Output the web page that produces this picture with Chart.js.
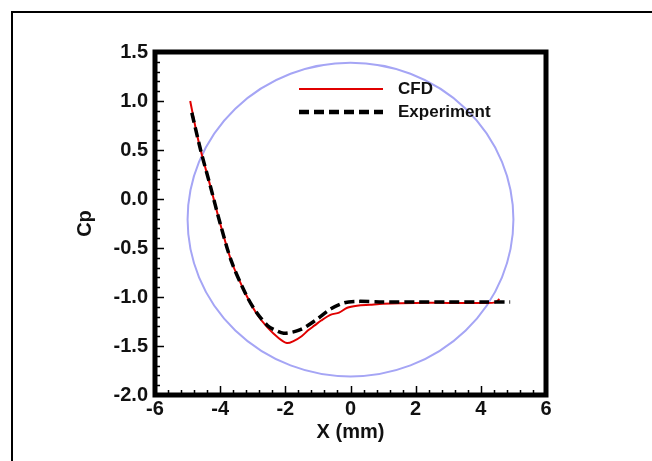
<!DOCTYPE html>
<html>
<head>
<meta charset="utf-8">
<script src="https://cdn.jsdelivr.net/npm/chart.js@4.4.1/dist/chart.umd.min.js"></script>
<style>
  html, body { margin: 0; padding: 0; background: #fff; overflow: hidden; }
  #wrap { position: relative; width: 652px; height: 461px; overflow: hidden; }
  #frame { position: absolute; left: 11px; top: 11px; width: 900px; height: 700px;
           border-left: 2px solid #000; border-top: 2px solid #000; }
  canvas { position: absolute; left: 0; top: 0; }
</style>
</head>
<body>
<div id="wrap">
  <div id="frame"></div>
  <canvas id="cpChart" width="652" height="461"></canvas>
</div>
<script>
// CFD curve (red)
const cfdX = [-4.92, -4.75, -4.6, -4.3, -4.0, -3.65, -3.2, -2.9, -2.55, -2.2, -1.95, -1.75, -1.5, -1.3, -1.1, -0.9, -0.6, -0.35, -0.1, 0.2, 0.6, 1.0, 2.0, 3.0, 4.0, 4.45, 4.57];
const cfdY = [1.0, 0.72, 0.5, 0.13, -0.25, -0.64, -0.98, -1.16, -1.31, -1.42, -1.47, -1.45, -1.40, -1.34, -1.29, -1.24, -1.18, -1.16, -1.11, -1.09, -1.08, -1.07, -1.06, -1.06, -1.06, -1.055, -1.02];

// Experiment curve (black dashed)
const expX = [-4.87, -4.6, -4.3, -4.0, -3.65, -3.2, -2.9, -2.55, -2.3, -2.05, -1.8, -1.6, -1.4, -1.0, -0.6, -0.2, 0.2, 1.0, 2.0, 3.0, 4.0, 4.9];
const expY = [0.88, 0.5, 0.13, -0.25, -0.64, -0.98, -1.15, -1.29, -1.34, -1.37, -1.36, -1.34, -1.31, -1.22, -1.12, -1.06, -1.045, -1.05, -1.05, -1.05, -1.05, -1.05];

// highlight ellipse (data units)
const circleCenter = [0, -0.21];
const circleRadius = [5.0, 1.6];

// axes
const xRange = [-6, 6];
const yRange = [-2.0, 1.5];
const xMajor = 2, xMinor = 0.4;
const yMajor = 0.5, yMinor = 0.1;

const toPoints = (xs, ys) => xs.map((x, i) => ({ x: x, y: ys[i] }));

const decorPlugin = {
    id: 'decor',
    beforeDatasetsDraw(chart) {
        const { ctx, scales: { x, y } } = chart;
        const cx = x.getPixelForValue(circleCenter[0]);
        const cy = y.getPixelForValue(circleCenter[1]);
        const rx = Math.abs(x.getPixelForValue(circleCenter[0] + circleRadius[0]) - cx);
        const ry = Math.abs(y.getPixelForValue(circleCenter[1] + circleRadius[1]) - cy);
        ctx.save();
        ctx.strokeStyle = 'rgb(165,165,245)';
        ctx.lineWidth = 2;
        ctx.beginPath();
        ctx.ellipse(cx, cy, rx, ry, 0, 0, Math.PI * 2);
        ctx.stroke();
        ctx.restore();
    },
    afterDraw(chart) {
        const { ctx, chartArea: a, scales: { x, y } } = chart;
        ctx.save();
        ctx.strokeStyle = '#000';

        // inward ticks on left and bottom
        ctx.lineWidth = 1.5;
        ctx.beginPath();
        for (let v = yRange[0]; v <= yRange[1] + 1e-9; v += yMinor) {
            const isMajor = Math.abs(v / yMajor - Math.round(v / yMajor)) < 1e-6;
            const py = Math.round(y.getPixelForValue(v)) + 0.5;
            ctx.moveTo(a.left, py);
            ctx.lineTo(a.left + (isMajor ? 9 : 5), py);
        }
        for (let v = xRange[0]; v <= xRange[1] + 1e-9; v += xMinor) {
            const isMajor = Math.abs(v / xMajor - Math.round(v / xMajor)) < 1e-6;
            const px = Math.round(x.getPixelForValue(v)) + 0.5;
            ctx.moveTo(px, a.bottom);
            ctx.lineTo(px, a.bottom - (isMajor ? 9 : 5));
        }
        ctx.stroke();

        // thick plot frame
        ctx.lineWidth = 5;
        ctx.strokeRect(a.left, a.top, a.right - a.left, a.bottom - a.top);

        // legend
        const ds = chart.data.datasets;
        const lx0 = 299, lx1 = 383, tx = 398;
        const rows = [89, 112];
        ctx.font = 'bold 17px "Liberation Sans", Arial, sans-serif';
        ctx.textBaseline = 'middle';
        ctx.fillStyle = '#111';
        [1, 0].forEach((di, r) => {
            const d = ds[di];
            ctx.beginPath();
            ctx.strokeStyle = d.borderColor;
            ctx.lineWidth = di === 1 ? 2 : 4.5;
            ctx.setLineDash(d.borderDash || []);
            ctx.moveTo(lx0, rows[r]);
            ctx.lineTo(lx1, rows[r]);
            ctx.stroke();
            ctx.setLineDash([]);
            ctx.fillText(d.label, tx, rows[r]);
        });
        ctx.restore();
    }
};

new Chart(document.getElementById('cpChart'), {
    type: 'line',
    data: {
        datasets: [
            {
                label: 'Experiment',
                data: toPoints(expX, expY),
                borderColor: '#000',
                borderWidth: 3.5,
                borderDash: [10, 5],
                pointRadius: 0,
                tension: 0.3,
                fill: false,
                order: 1,
            },
            {
                label: 'CFD',
                data: toPoints(cfdX, cfdY),
                borderColor: '#e00000',
                borderWidth: 2,
                pointRadius: 0,
                tension: 0.3,
                fill: false,
                order: 2,
            },
        ],
    },
    options: {
        responsive: false,
        animation: false,
        devicePixelRatio: 1,
        layout: { padding: { top: 52, right: 106, left: 0, bottom: 0 } },
        plugins: {
            legend: { display: false },
            tooltip: { enabled: false },
        },
        scales: {
            x: {
                type: 'linear',
                min: xRange[0],
                max: xRange[1],
                grid: { display: false, drawTicks: false },
                border: { display: false },
                ticks: {
                    stepSize: xMajor,
                    padding: 2,
                    color: '#111',
                    font: { family: '"Liberation Sans", Arial, sans-serif', size: 20, weight: 'bold' },
                    maxRotation: 0,
                },
                title: {
                    display: true,
                    text: 'X (mm)',
                    color: '#111',
                    font: { family: '"Liberation Sans", Arial, sans-serif', size: 20, weight: 'bold' },
                    padding: { top: 0, bottom: 17 },
                },
                afterFit(scale) { scale.height = 66; },
            },
            y: {
                type: 'linear',
                min: yRange[0],
                max: yRange[1],
                grid: { display: false, drawTicks: false },
                border: { display: false },
                ticks: {
                    stepSize: yMajor,
                    padding: 7,
                    color: '#111',
                    font: { family: '"Liberation Sans", Arial, sans-serif', size: 20, weight: 'bold' },
                    callback: (v) => v.toFixed(1),
                },
                title: {
                    display: true,
                    text: 'Cp',
                    color: '#111',
                    font: { family: '"Liberation Sans", Arial, sans-serif', size: 20, weight: 'bold' },
                    padding: { top: 73, bottom: 0 },
                },
                afterFit(scale) { scale.width = 155; },
            },
        },
    },
    plugins: [decorPlugin],
});
</script>
</body>
</html>
